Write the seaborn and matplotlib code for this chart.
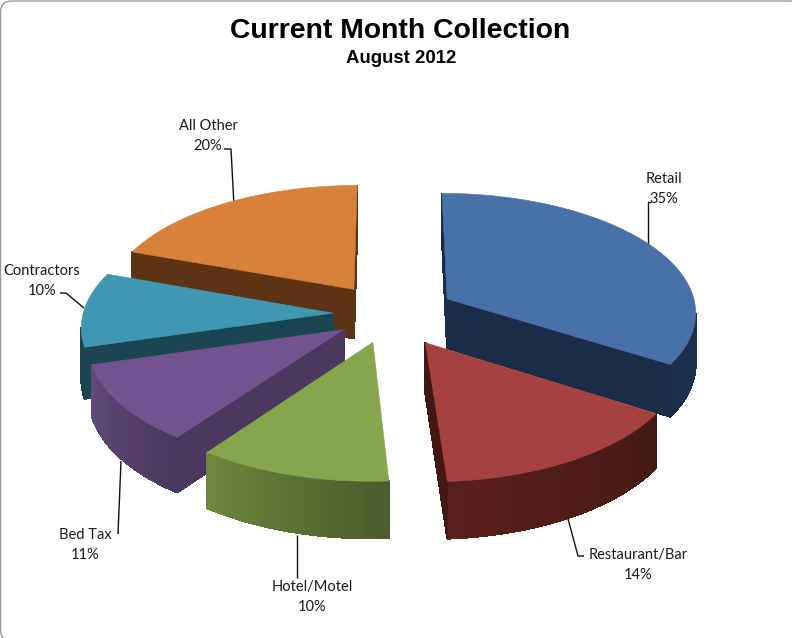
import numpy as np
import matplotlib
matplotlib.use("Agg")
import matplotlib.pyplot as plt
from matplotlib.patches import Polygon, FancyBboxPatch
import seaborn as sns

categories = ["Retail", "Restaurant/Bar", "Hotel/Motel", "Bed Tax", "Contractors", "All Other"]
shares = [35, 14, 10, 11, 10, 20]
sweep_weights = [34, 15, 11, 10.5, 10, 19.5]
top_colors = ["#4871a8", "#a5423f", "#87a54c", "#71548f", "#4097b2", "#d8813a"]
side_light = ["#1b2f4c", "#5a211d", "#6f873f", "#5f4a7a", "#1c4553", "#5c3415"]
side_dark = ["#1a2c48", "#431814", "#4a5a2b", "#4b3860", "#1c4553", "#5c3415"]
explode = [66, 68, 60, 56, 57, 64]
label_xy = [(664, 189), (638, 565), (312, 597), (85, 545), (42, 281), (208, 136)]
leaders = [[(648, 249), (648, 202), (651, 202)],
           [(567, 515), (578, 556), (584, 556)],
           [(297, 535), (297, 578)],
           [(121, 461), (118, 534)],
           [(84, 308), (66, 293), (60, 293)],
           [(234, 206), (231, 149), (224, 149)]]

cx, cy = 390, 314
rx, ry = 250, 119
persp = 0.10
depth = 50
y_ratio = 0.48

sns.set_theme(style="white")
fig = plt.figure(figsize=(7.92, 6.38), dpi=100)
ax = fig.add_axes([0, 0, 1, 1])
ax.set_xlim(0, 792)
ax.set_ylim(638, 0)
ax.axis("off")


def project(X, Y, off_x, off_y, z=0.0):
    s = 1 / (1 + persp * (Y + off_y))
    return np.array([cx + (rx * X + off_x) * s,
                     cy - (ry * Y + off_y * ry) * s + z * s])


ax.add_patch(FancyBboxPatch((0.5, 1), 800, 640, boxstyle="round,pad=0,rounding_size=11",
                            fc="white", ec="#9a9a9a", lw=1.0))

edges = np.cumsum([0] + sweep_weights) / sum(sweep_weights) * 2 * np.pi
mids = (edges[:-1] + edges[1:]) / 2
order = [5, 0, 4, 1, 3, 2]

for i in order:
    t = np.linspace(edges[i], edges[i + 1], 40)
    ox = explode[i] * np.sin(mids[i])
    oy = explode[i] * np.cos(mids[i]) * y_ratio / ry
    Xs = np.r_[0, np.sin(t)]
    Ys = np.r_[0, np.cos(t)]
    top = np.array([project(x, y, ox, oy) for x, y in zip(Xs, Ys)])
    bot = np.array([project(x, y, ox, oy, depth) for x, y in zip(Xs, Ys)])
    n = len(top)
    shades = sns.blend_palette([side_light[i], side_dark[i]], n)
    for j in range(n):
        k = (j + 1) % n
        quad = np.array([top[j], top[k], bot[k], bot[j]])
        x, y = quad[:, 0], quad[:, 1]
        area = 0.5 * np.sum(x * np.roll(y, -1) - np.roll(x, -1) * y)
        if area > 0:
            continue
        if j == 0 or j == n - 1:
            col = side_dark[i]
        else:
            col = shades[n - 1 - j]
        ax.add_patch(Polygon(quad, closed=True, fc=col, ec=col, lw=0.8, zorder=2,
                             antialiased=False))
    ax.add_patch(Polygon(top, closed=True, fc=top_colors[i], ec=top_colors[i], lw=0.4, zorder=2))

for i, pts in enumerate(leaders):
    p = np.array(pts)
    ax.plot(p[:, 0], p[:, 1], color="#111111", lw=1.0, zorder=1, solid_capstyle="butt")
    ax.text(label_xy[i][0], label_xy[i][1], f"{categories[i]}\n{shares[i]}%", ha="center", va="center",
            fontsize=10.5, family="Lato", color="#1a1a1a", linespacing=1.5)

ax.text(400, 31, "Current Month Collection", ha="center", va="center",
        fontsize=20.4, fontweight="bold", family="Liberation Sans", color="black")
ax.text(401, 58.5, "August 2012", ha="center", va="center",
        fontsize=13.4, fontweight="bold", family="Liberation Sans", color="black")

fig.savefig("out.png", dpi=100)
